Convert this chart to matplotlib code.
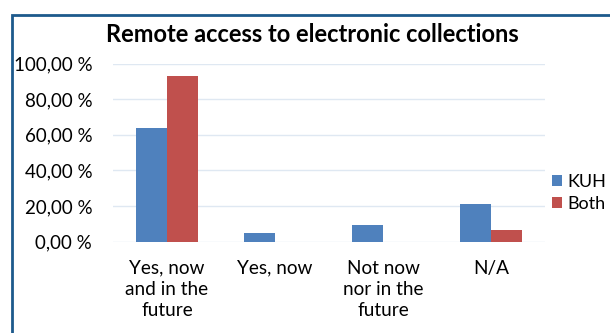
import matplotlib.pyplot as plt
import numpy as np
from matplotlib.patches import Rectangle

plt.rcParams['font.family'] = ['Lato', 'DejaVu Sans']

categories = ['Yes, now\nand in the\nfuture', 'Yes, now', 'Not now\nnor in the\nfuture', 'N/A']
kuh = [63.8, 4.7, 9.0, 21.2]
both = [93.1, 0.0, 0.0, 6.6]
yticks = [0, 20, 40, 60, 80, 100]

fig = plt.figure(figsize=(6.1, 3.33), dpi=100)
ax = fig.add_axes([113/610, 1-241.5/333, 432/610, 178/333])

x = np.arange(len(categories))
w = 0.287
ax.bar(x - w/2, kuh, w, color='#4f81bd', label='KUH', zorder=3)
ax.bar(x + w/2, both, w, color='#c0504d', label='Both', zorder=3)

ax.set_xlim(-0.5, len(categories) - 0.5)
ax.set_ylim(0, 100)
ax.set_yticks(yticks)
ax.set_yticklabels([('%.2f %%' % v).replace('.', ',') for v in yticks])
ax.set_xticks(x)
ax.set_xticklabels(categories, linespacing=1.3)
ax.tick_params(axis='y', length=0, pad=15, labelsize=13.5)
ax.tick_params(axis='x', length=0, pad=13, labelsize=13.7)
ax.grid(axis='y', color='#dfe8f2', lw=1, zorder=0)
for s in ax.spines.values():
    s.set_visible(False)

fig.text(312/610, 1-34/333, 'Remote access to electronic collections',
         ha='center', va='center', fontsize=17, fontweight='bold')

fig.legend(loc='center left', bbox_to_anchor=(552/610, 1-193/333), frameon=False,
           fontsize=13, handlelength=0.55, handleheight=0.55, handletextpad=0.3,
           labelspacing=0.35, borderaxespad=0, borderpad=0)

fig.patches.append(Rectangle((12/610, -0.1), 1.0, 1.1 - 15/333, transform=fig.transFigure,
                             fill=False, edgecolor='#1d5a8c', lw=2))

fig.savefig('out.png', dpi=100)
